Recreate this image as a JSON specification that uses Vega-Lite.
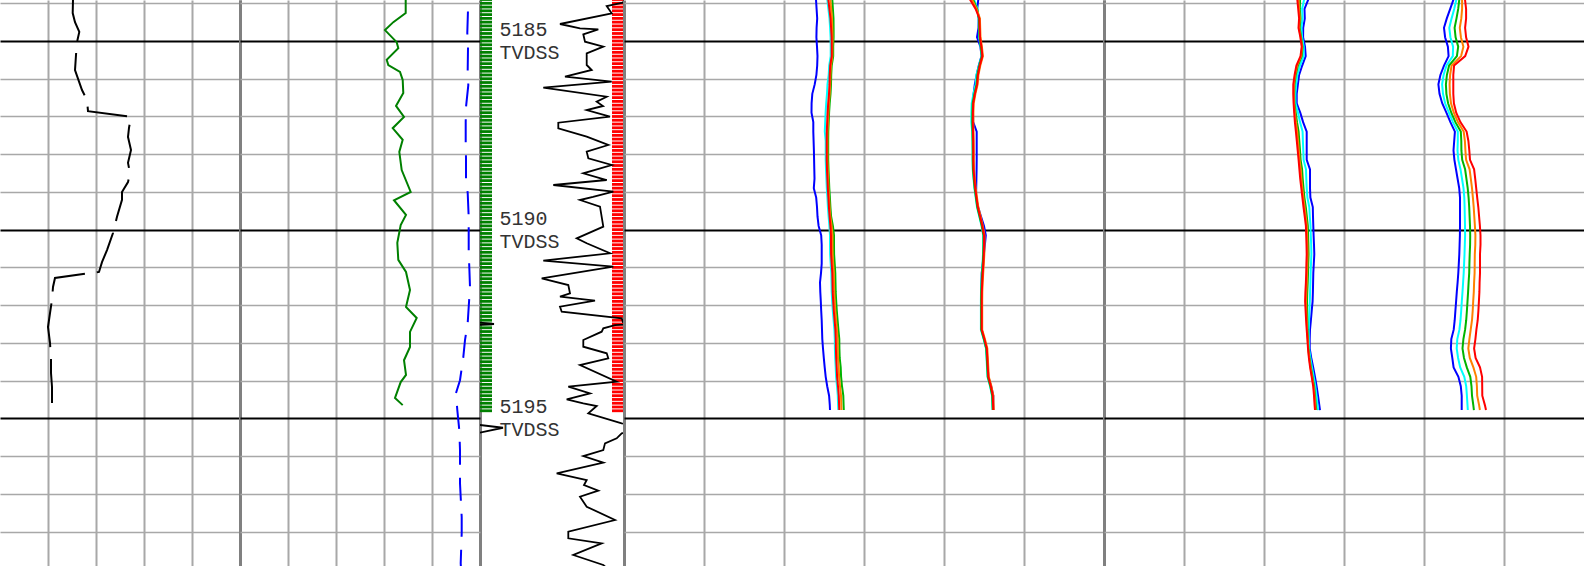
{
"$schema": "https://vega.github.io/schema/vega-lite/v6.json",
"padding": 0,
"spacing": 0,
"bounds": "flush",
"background": "white",
"config": {"view": {"stroke": null}, "axis": {"labels": false, "ticks": false, "domain": false, "grid": true, "minExtent": 0, "maxExtent": 0}},
"datasets": {
"t1": [{"d":5183.9,"v":7.3},{"d":5184.26,"v":7.27},{"d":5184.5,"v":7.5},{"d":5184.76,"v":7.93},{"d":5185.03,"v":7.7},{"d":5185.37,"v":7.6},{"d":5185.77,"v":7.5},{"d":5186.3,"v":8.2},{"d":5186.56,"v":8.7},{"d":5186.86,"v":8.8},{"d":5187.01,"v":13.1},{"d":5187.3,"v":12.9},{"d":5187.54,"v":12.8},{"d":5187.89,"v":13.1},{"d":5188.23,"v":12.8},{"d":5188.5,"v":13.0},{"d":5188.74,"v":12.8},{"d":5189.0,"v":12.2},{"d":5189.21,"v":12.2},{"d":5189.66,"v":11.7},{"d":5190.09,"v":11.3},{"d":5190.54,"v":10.7},{"d":5190.86,"v":10.2},{"d":5191.12,"v":9.9},{"d":5191.28,"v":5.5},{"d":5191.52,"v":5.3},{"d":5191.86,"v":5.2},{"d":5192.21,"v":5.0},{"d":5192.58,"v":4.8},{"d":5193.0,"v":5.0},{"d":5193.45,"v":5.1},{"d":5193.8,"v":5.1},{"d":5194.17,"v":5.2},{"d":5194.78,"v":5.2}],
"t2g": [{"d":5183.9,"v":16.57},{"d":5184.26,"v":16.57},{"d":5184.5,"v":15.33},{"d":5184.71,"v":14.5},{"d":5185.03,"v":15.67},{"d":5185.19,"v":15.83},{"d":5185.5,"v":14.67},{"d":5185.64,"v":14.83},{"d":5185.82,"v":16.0},{"d":5186.03,"v":16.27},{"d":5186.38,"v":16.33},{"d":5186.72,"v":15.6},{"d":5187.01,"v":16.4},{"d":5187.31,"v":15.27},{"d":5187.62,"v":16.27},{"d":5187.94,"v":15.93},{"d":5188.42,"v":16.17},{"d":5189.0,"v":17.07},{"d":5189.22,"v":15.4},{"d":5189.61,"v":16.6},{"d":5189.88,"v":16.07},{"d":5190.35,"v":15.73},{"d":5190.8,"v":15.83},{"d":5191.12,"v":16.6},{"d":5191.6,"v":17.0},{"d":5192.05,"v":16.6},{"d":5192.34,"v":17.67},{"d":5192.71,"v":17.0},{"d":5193.11,"v":17.0},{"d":5193.46,"v":16.4},{"d":5193.85,"v":16.6},{"d":5194.04,"v":16.07},{"d":5194.46,"v":15.5},{"d":5194.65,"v":16.27}],
"t2b": [{"d":5183.9,"v":22.83},{"d":5184.79,"v":22.73},{"d":5185.19,"v":22.8},{"d":5185.77,"v":22.77},{"d":5186.17,"v":22.83},{"d":5186.75,"v":22.6},{"d":5187.15,"v":22.57},{"d":5187.7,"v":22.57},{"d":5188.1,"v":22.6},{"d":5188.68,"v":22.6},{"d":5189.03,"v":22.77},{"d":5189.67,"v":22.87},{"d":5190.59,"v":22.87},{"d":5190.99,"v":22.93},{"d":5191.52,"v":23.0},{"d":5192.05,"v":22.87},{"d":5192.47,"v":22.77},{"d":5192.93,"v":22.5},{"d":5193.38,"v":22.33},{"d":5193.99,"v":22.0},{"d":5194.33,"v":21.6},{"d":5194.78,"v":21.73},{"d":5195.31,"v":21.93},{"d":5195.84,"v":22.0},{"d":5196.72,"v":22.0},{"d":5197.62,"v":22.17},{"d":5198.04,"v":22.17},{"d":5198.84,"v":22.07},{"d":5199.0,"v":22.1}],
"dc": [{"s":"m","d":5183.9,"v":14.5},{"s":"m","d":5183.985,"v":14.27},{"s":"m","d":5184.072,"v":12.67},{"s":"m","d":5184.266,"v":13.17},{"s":"m","d":5184.549,"v":8.0},{"s":"m","d":5184.663,"v":10.0},{"s":"m","d":5184.69,"v":11.83},{"s":"m","d":5184.822,"v":10.33},{"s":"m","d":5185.018,"v":10.5},{"s":"m","d":5185.151,"v":12.33},{"s":"m","d":5185.326,"v":10.67},{"s":"m","d":5185.636,"v":10.67},{"s":"m","d":5185.768,"v":11.17},{"s":"m","d":5185.946,"v":8.5},{"s":"m","d":5186.078,"v":13.17},{"s":"m","d":5186.237,"v":6.33},{"s":"m","d":5186.476,"v":12.67},{"s":"m","d":5186.608,"v":11.67},{"s":"m","d":5186.722,"v":12.3},{"s":"m","d":5186.829,"v":10.67},{"s":"m","d":5187.006,"v":13.0},{"s":"m","d":5187.165,"v":7.83},{"s":"m","d":5187.313,"v":7.83},{"s":"m","d":5187.536,"v":10.67},{"s":"m","d":5187.756,"v":12.83},{"s":"m","d":5187.934,"v":10.67},{"s":"m","d":5188.109,"v":10.83},{"s":"m","d":5188.286,"v":13.17},{"s":"m","d":5188.506,"v":10.33},{"s":"m","d":5188.684,"v":12.67},{"s":"m","d":5188.816,"v":7.33},{"s":"m","d":5188.994,"v":13.33},{"s":"m","d":5189.134,"v":11.3},{"s":"m","d":5189.214,"v":10.0},{"s":"m","d":5189.391,"v":12.0},{"s":"m","d":5189.921,"v":12.33},{"s":"m","d":5190.229,"v":9.67},{"s":"m","d":5190.361,"v":10.67},{"s":"m","d":5190.626,"v":13.0},{"s":"m","d":5190.822,"v":6.33},{"s":"m","d":5190.981,"v":13.33},{"s":"m","d":5191.289,"v":6.17},{"s":"m","d":5191.467,"v":8.83},{"s":"m","d":5191.687,"v":9.0},{"s":"m","d":5191.777,"v":8.0},{"s":"m","d":5191.883,"v":11.5},{"s":"m","d":5192.042,"v":8.0},{"s":"m","d":5192.174,"v":8.17},{"s":"m","d":5192.349,"v":14.17},{"s":"m","d":5192.45,"v":14.3},{"s":"m","d":5192.5,"v":15.8},{"s":"m","d":5192.53,"v":13.5},{"s":"m","d":5192.615,"v":12.33},{"s":"m","d":5192.704,"v":12.17},{"s":"m","d":5192.924,"v":10.33},{"s":"m","d":5193.102,"v":10.33},{"s":"m","d":5193.277,"v":12.67},{"s":"m","d":5193.41,"v":12.83},{"s":"m","d":5193.587,"v":10.0},{"s":"m","d":5194.03,"v":13.67},{"s":"m","d":5194.162,"v":8.83},{"s":"m","d":5194.337,"v":11.0},{"s":"m","d":5194.496,"v":8.67},{"s":"m","d":5194.602,"v":10.33},{"s":"m","d":5194.674,"v":11.67},{"s":"m","d":5194.867,"v":10.83},{"s":"m","d":5195.132,"v":14.17},{"s":"m","d":5195.25,"v":16.7},{"s":"m","d":5195.397,"v":14.17},{"s":"m","d":5195.53,"v":13.67},{"s":"m","d":5195.662,"v":12.5},{"s":"m","d":5195.84,"v":12.33},{"s":"m","d":5195.999,"v":10.33},{"s":"m","d":5196.176,"v":12.33},{"s":"m","d":5196.457,"v":7.67},{"s":"m","d":5196.635,"v":10.67},{"s":"m","d":5196.768,"v":10.4},{"s":"m","d":5196.918,"v":11.83},{"s":"m","d":5197.077,"v":10.0},{"s":"m","d":5197.343,"v":10.67},{"s":"m","d":5197.695,"v":13.5},{"s":"m","d":5198.005,"v":8.83},{"s":"m","d":5198.18,"v":8.83},{"s":"m","d":5198.313,"v":12.17},{"s":"m","d":5198.623,"v":9.33},{"s":"m","d":5198.888,"v":12.33},{"s":"m","d":5198.95,"v":12.6},
{"s":"w1","d":5192.46,"v":-0.2},{"s":"w1","d":5192.5,"v":1.4},{"s":"w1","d":5192.525,"v":-0.2},
{"s":"w2","d":5195.17,"v":-0.2},{"s":"w2","d":5195.25,"v":2.3},{"s":"w2","d":5195.39,"v":-0.2}],
"strip": [{"d":5183.9},{"d":5184.0},{"d":5184.1},{"d":5184.2},{"d":5184.3},{"d":5184.4},{"d":5184.5},{"d":5184.6},{"d":5184.7},{"d":5184.8},{"d":5184.9},{"d":5185.0},{"d":5185.1},{"d":5185.2},{"d":5185.3},{"d":5185.4},{"d":5185.5},{"d":5185.6},{"d":5185.7},{"d":5185.8},{"d":5185.9},{"d":5186.0},{"d":5186.1},{"d":5186.2},{"d":5186.3},{"d":5186.4},{"d":5186.5},{"d":5186.6},{"d":5186.7},{"d":5186.8},{"d":5186.9},{"d":5187.0},{"d":5187.1},{"d":5187.2},{"d":5187.3},{"d":5187.4},{"d":5187.5},{"d":5187.6},{"d":5187.7},{"d":5187.8},{"d":5187.9},{"d":5188.0},{"d":5188.1},{"d":5188.2},{"d":5188.3},{"d":5188.4},{"d":5188.5},{"d":5188.6},{"d":5188.7},{"d":5188.8},{"d":5188.9},{"d":5189.0},{"d":5189.1},{"d":5189.2},{"d":5189.3},{"d":5189.4},{"d":5189.5},{"d":5189.6},{"d":5189.7},{"d":5189.8},{"d":5189.9},{"d":5190.0},{"d":5190.1},{"d":5190.2},{"d":5190.3},{"d":5190.4},{"d":5190.5},{"d":5190.6},{"d":5190.7},{"d":5190.8},{"d":5190.9},{"d":5191.0},{"d":5191.1},{"d":5191.2},{"d":5191.3},{"d":5191.4},{"d":5191.5},{"d":5191.6},{"d":5191.7},{"d":5191.8},{"d":5191.9},{"d":5192.0},{"d":5192.1},{"d":5192.2},{"d":5192.3},{"d":5192.4},{"d":5192.5},{"d":5192.6},{"d":5192.7},{"d":5192.8},{"d":5192.9},{"d":5193.0},{"d":5193.1},{"d":5193.2},{"d":5193.3},{"d":5193.4},{"d":5193.5},{"d":5193.6},{"d":5193.7},{"d":5193.8},{"d":5193.9},{"d":5194.0},{"d":5194.1},{"d":5194.2},{"d":5194.3},{"d":5194.4},{"d":5194.5},{"d":5194.6},{"d":5194.7},{"d":5194.8}],
"lab": [{"d":5185,"t":"5185"},{"d":5190,"t":"5190"},{"d":5195,"t":"5195"}],
"t4": [
{"b":"A","d":5183.9,"blue":19.2,"cyan":20.33,"green":20.83,"orange":20.63,"red":20.43},
{"b":"A","d":5184.15,"blue":19.26,"cyan":20.44,"green":20.89,"orange":20.72,"red":20.54},
{"b":"A","d":5184.4,"blue":19.32,"cyan":20.55,"green":20.95,"orange":20.8,"red":20.65},
{"b":"A","d":5184.65,"blue":19.26,"cyan":20.61,"green":20.96,"orange":20.83,"red":20.71},
{"b":"A","d":5184.9,"blue":19.24,"cyan":20.66,"green":20.96,"orange":20.86,"red":20.76},
{"b":"A","d":5185.15,"blue":19.3,"cyan":20.67,"green":20.92,"orange":20.84,"red":20.77},
{"b":"A","d":5185.4,"blue":19.35,"cyan":20.67,"green":20.92,"orange":20.84,"red":20.77},
{"b":"A","d":5185.65,"blue":19.32,"cyan":20.52,"green":20.77,"orange":20.69,"red":20.62},
{"b":"A","d":5185.9,"blue":19.24,"cyan":20.47,"green":20.72,"orange":20.64,"red":20.57},
{"b":"A","d":5186.15,"blue":19.07,"cyan":20.35,"green":20.7,"orange":20.62,"red":20.55},
{"b":"A","d":5186.4,"blue":18.83,"cyan":20.3,"green":20.65,"orange":20.57,"red":20.5},
{"b":"A","d":5186.65,"blue":18.76,"cyan":20.22,"green":20.57,"orange":20.49,"red":20.42},
{"b":"A","d":5186.9,"blue":18.75,"cyan":20.16,"green":20.51,"orange":20.43,"red":20.36},
{"b":"A","d":5187.15,"blue":18.93,"cyan":20.12,"green":20.47,"orange":20.39,"red":20.32},
{"b":"A","d":5187.4,"blue":18.93,"cyan":20.08,"green":20.43,"orange":20.35,"red":20.28},
{"b":"A","d":5187.65,"blue":18.96,"cyan":20.17,"green":20.42,"orange":20.34,"red":20.27},
{"b":"A","d":5187.9,"blue":18.99,"cyan":20.17,"green":20.42,"orange":20.34,"red":20.27},
{"b":"A","d":5188.15,"blue":19.01,"cyan":20.17,"green":20.42,"orange":20.34,"red":20.27},
{"b":"A","d":5188.4,"blue":19.03,"cyan":20.2,"green":20.45,"orange":20.37,"red":20.3},
{"b":"A","d":5188.65,"blue":19.05,"cyan":20.24,"green":20.49,"orange":20.41,"red":20.34},
{"b":"A","d":5188.9,"blue":18.98,"cyan":20.28,"green":20.53,"orange":20.45,"red":20.38},
{"b":"A","d":5189.15,"blue":19.22,"cyan":20.34,"green":20.59,"orange":20.51,"red":20.44},
{"b":"A","d":5189.4,"blue":19.3,"cyan":20.39,"green":20.64,"orange":20.56,"red":20.49},
{"b":"A","d":5189.65,"blue":19.35,"cyan":20.46,"green":20.71,"orange":20.63,"red":20.56},
{"b":"A","d":5189.9,"blue":19.46,"cyan":20.54,"green":20.89,"orange":20.76,"red":20.64},
{"b":"A","d":5190.15,"blue":19.72,"cyan":20.6,"green":21.0,"orange":20.85,"red":20.7},
{"b":"A","d":5190.4,"blue":19.77,"cyan":20.6,"green":21.0,"orange":20.85,"red":20.7},
{"b":"A","d":5190.65,"blue":19.77,"cyan":20.61,"green":21.01,"orange":20.86,"red":20.71},
{"b":"A","d":5190.9,"blue":19.77,"cyan":20.67,"green":21.07,"orange":20.92,"red":20.77},
{"b":"A","d":5191.15,"blue":19.7,"cyan":20.73,"green":21.13,"orange":20.98,"red":20.83},
{"b":"A","d":5191.4,"blue":19.6,"cyan":20.75,"green":21.15,"orange":21.0,"red":20.85},
{"b":"A","d":5191.65,"blue":19.63,"cyan":20.77,"green":21.17,"orange":21.02,"red":20.87},
{"b":"A","d":5191.9,"blue":19.68,"cyan":20.82,"green":21.22,"orange":21.07,"red":20.92},
{"b":"A","d":5192.15,"blue":19.72,"cyan":20.88,"green":21.28,"orange":21.13,"red":20.98},
{"b":"A","d":5192.4,"blue":19.77,"cyan":20.96,"green":21.36,"orange":21.21,"red":21.06},
{"b":"A","d":5192.65,"blue":19.8,"cyan":21.04,"green":21.44,"orange":21.29,"red":21.14},
{"b":"A","d":5192.9,"blue":19.83,"cyan":21.08,"green":21.53,"orange":21.36,"red":21.18},
{"b":"A","d":5193.15,"blue":19.9,"cyan":21.09,"green":21.54,"orange":21.37,"red":21.19},
{"b":"A","d":5193.4,"blue":19.98,"cyan":21.12,"green":21.57,"orange":21.4,"red":21.22},
{"b":"A","d":5193.65,"blue":20.07,"cyan":21.17,"green":21.67,"orange":21.47,"red":21.27},
{"b":"A","d":5193.9,"blue":20.17,"cyan":21.21,"green":21.71,"orange":21.51,"red":21.31},
{"b":"A","d":5194.15,"blue":20.32,"cyan":21.3,"green":21.8,"orange":21.6,"red":21.4},
{"b":"A","d":5194.4,"blue":20.51,"cyan":21.38,"green":21.93,"orange":21.7,"red":21.48},
{"b":"A","d":5194.65,"blue":20.58,"cyan":21.41,"green":21.96,"orange":21.73,"red":21.51},
{"b":"A","d":5194.78,"blue":20.6,"cyan":21.43,"green":21.98,"orange":21.75,"red":21.53},
{"b":"B","d":5183.9,"blue":35.43,"cyan":35.0,"green":34.9,"orange":34.8,"red":34.6},
{"b":"B","d":5184.15,"blue":35.32,"cyan":35.36,"green":35.31,"orange":35.26,"red":35.16},
{"b":"B","d":5184.4,"blue":35.47,"cyan":35.46,"green":35.49,"orange":35.59,"red":35.54},
{"b":"B","d":5184.65,"blue":35.45,"cyan":35.49,"green":35.52,"orange":35.62,"red":35.57},
{"b":"B","d":5184.9,"blue":35.3,"cyan":35.52,"green":35.55,"orange":35.65,"red":35.6},
{"b":"B","d":5185.15,"blue":35.64,"cyan":35.66,"green":35.69,"orange":35.79,"red":35.74},
{"b":"B","d":5185.4,"blue":35.75,"cyan":35.76,"green":35.79,"orange":35.89,"red":35.84},
{"b":"B","d":5185.65,"blue":35.48,"cyan":35.5,"green":35.53,"orange":35.63,"red":35.58},
{"b":"B","d":5185.9,"blue":35.26,"cyan":35.24,"green":35.34,"orange":35.44,"red":35.39},
{"b":"B","d":5186.15,"blue":35.08,"cyan":35.16,"green":35.26,"orange":35.36,"red":35.31},
{"b":"B","d":5186.4,"blue":34.96,"cyan":34.94,"green":35.04,"orange":35.14,"red":35.09},
{"b":"B","d":5186.65,"blue":34.87,"cyan":34.77,"green":34.87,"orange":34.97,"red":34.92},
{"b":"B","d":5186.9,"blue":34.9,"cyan":34.74,"green":34.84,"orange":34.94,"red":34.89},
{"b":"B","d":5187.15,"blue":34.92,"cyan":34.73,"green":34.83,"orange":34.93,"red":34.88},
{"b":"B","d":5187.4,"blue":35.27,"cyan":34.82,"green":34.85,"orange":34.95,"red":34.9},
{"b":"B","d":5187.65,"blue":35.27,"cyan":34.84,"green":34.87,"orange":34.97,"red":34.92},
{"b":"B","d":5187.9,"blue":35.27,"cyan":34.85,"green":34.88,"orange":34.98,"red":34.93},
{"b":"B","d":5188.15,"blue":35.27,"cyan":34.85,"green":34.88,"orange":34.98,"red":34.93},
{"b":"B","d":5188.4,"blue":35.26,"cyan":34.87,"green":34.9,"orange":35.0,"red":34.95},
{"b":"B","d":5188.65,"blue":35.24,"cyan":34.95,"green":34.98,"orange":35.08,"red":35.03},
{"b":"B","d":5188.9,"blue":35.22,"cyan":35.04,"green":35.07,"orange":35.17,"red":35.12},
{"b":"B","d":5189.15,"blue":35.2,"cyan":35.17,"green":35.2,"orange":35.3,"red":35.25},
{"b":"B","d":5189.4,"blue":35.41,"cyan":35.3,"green":35.33,"orange":35.43,"red":35.38},
{"b":"B","d":5189.65,"blue":35.7,"cyan":35.53,"green":35.56,"orange":35.66,"red":35.61},
{"b":"B","d":5189.9,"blue":36.0,"cyan":35.75,"green":35.78,"orange":35.88,"red":35.83},
{"b":"B","d":5190.15,"blue":36.18,"cyan":35.92,"green":35.95,"orange":36.05,"red":36.0},
{"b":"B","d":5190.4,"blue":36.09,"cyan":35.92,"green":35.95,"orange":36.05,"red":36.0},
{"b":"B","d":5190.65,"blue":35.99,"cyan":35.9,"green":35.93,"orange":36.03,"red":35.98},
{"b":"B","d":5190.9,"blue":35.88,"cyan":35.85,"green":35.88,"orange":35.98,"red":35.93},
{"b":"B","d":5191.15,"blue":35.77,"cyan":35.79,"green":35.82,"orange":35.92,"red":35.87},
{"b":"B","d":5191.4,"blue":35.75,"cyan":35.74,"green":35.77,"orange":35.87,"red":35.82},
{"b":"B","d":5191.65,"blue":35.72,"cyan":35.7,"green":35.73,"orange":35.83,"red":35.78},
{"b":"B","d":5191.9,"blue":35.7,"cyan":35.69,"green":35.72,"orange":35.82,"red":35.77},
{"b":"B","d":5192.15,"blue":35.73,"cyan":35.69,"green":35.72,"orange":35.82,"red":35.77},
{"b":"B","d":5192.4,"blue":35.75,"cyan":35.69,"green":35.72,"orange":35.82,"red":35.77},
{"b":"B","d":5192.65,"blue":35.77,"cyan":35.69,"green":35.72,"orange":35.82,"red":35.77},
{"b":"B","d":5192.9,"blue":36.0,"cyan":35.96,"green":35.99,"orange":36.09,"red":36.04},
{"b":"B","d":5193.15,"blue":36.23,"cyan":36.2,"green":36.23,"orange":36.33,"red":36.28},
{"b":"B","d":5193.4,"blue":36.32,"cyan":36.25,"green":36.28,"orange":36.38,"red":36.33},
{"b":"B","d":5193.65,"blue":36.38,"cyan":36.3,"green":36.33,"orange":36.43,"red":36.38},
{"b":"B","d":5193.9,"blue":36.43,"cyan":36.35,"green":36.38,"orange":36.48,"red":36.43},
{"b":"B","d":5194.15,"blue":36.72,"cyan":36.61,"green":36.64,"orange":36.74,"red":36.69},
{"b":"B","d":5194.4,"blue":36.93,"cyan":36.8,"green":36.83,"orange":36.93,"red":36.88},
{"b":"B","d":5194.65,"blue":36.93,"cyan":36.83,"green":36.86,"orange":36.96,"red":36.91},
{"b":"B","d":5194.78,"blue":36.93,"cyan":36.85,"green":36.88,"orange":36.98,"red":36.93}],
"t5": [
{"b":"C","d":5183.9,"blue":20.43,"cyan":20.01,"green":19.61,"orange":19.46,"red":19.33},
{"b":"C","d":5184.15,"blue":20.05,"cyan":19.81,"green":19.58,"orange":19.5,"red":19.42},
{"b":"C","d":5184.4,"blue":20.08,"cyan":19.86,"green":19.65,"orange":19.58,"red":19.51},
{"b":"C","d":5184.65,"blue":19.92,"cyan":19.74,"green":19.57,"orange":19.51,"red":19.45},
{"b":"C","d":5184.9,"blue":19.91,"cyan":19.81,"green":19.71,"orange":19.67,"red":19.64},
{"b":"C","d":5185.15,"blue":20.1,"cyan":19.97,"green":19.85,"orange":19.81,"red":19.77},
{"b":"C","d":5185.4,"blue":20.17,"cyan":19.97,"green":19.78,"orange":19.71,"red":19.65},
{"b":"C","d":5185.65,"blue":19.82,"cyan":19.6,"green":19.39,"orange":19.31,"red":19.24},
{"b":"C","d":5185.9,"blue":19.51,"cyan":19.34,"green":19.17,"orange":19.11,"red":19.06},
{"b":"C","d":5186.15,"blue":19.39,"cyan":19.22,"green":19.05,"orange":18.99,"red":18.93},
{"b":"C","d":5186.4,"blue":19.27,"cyan":19.14,"green":19.02,"orange":18.97,"red":18.93},
{"b":"C","d":5186.65,"blue":19.27,"cyan":19.15,"green":19.04,"orange":19.0,"red":18.96},
{"b":"C","d":5186.9,"blue":19.63,"cyan":19.4,"green":19.17,"orange":19.09,"red":19.02},
{"b":"C","d":5187.15,"blue":19.91,"cyan":19.6,"green":19.3,"orange":19.19,"red":19.09},
{"b":"C","d":5187.4,"blue":20.27,"cyan":19.86,"green":19.46,"orange":19.32,"red":19.19},
{"b":"C","d":5187.65,"blue":20.27,"cyan":19.89,"green":19.53,"orange":19.4,"red":19.28},
{"b":"C","d":5187.9,"blue":20.27,"cyan":19.93,"green":19.6,"orange":19.48,"red":19.37},
{"b":"C","d":5188.15,"blue":20.27,"cyan":19.96,"green":19.66,"orange":19.56,"red":19.46},
{"b":"C","d":5188.4,"blue":20.6,"cyan":20.2,"green":19.81,"orange":19.67,"red":19.54},
{"b":"C","d":5188.65,"blue":20.6,"cyan":20.23,"green":19.87,"orange":19.74,"red":19.62},
{"b":"C","d":5188.9,"blue":20.6,"cyan":20.27,"green":19.95,"orange":19.83,"red":19.73},
{"b":"C","d":5189.15,"blue":20.64,"cyan":20.34,"green":20.04,"orange":19.94,"red":19.84},
{"b":"C","d":5189.4,"blue":20.88,"cyan":20.53,"green":20.18,"orange":20.06,"red":19.95},
{"b":"C","d":5189.65,"blue":20.9,"cyan":20.58,"green":20.28,"orange":20.17,"red":20.07},
{"b":"C","d":5189.9,"blue":20.93,"cyan":20.65,"green":20.38,"orange":20.28,"red":20.19},
{"b":"C","d":5190.15,"blue":20.96,"cyan":20.68,"green":20.41,"orange":20.31,"red":20.22},
{"b":"C","d":5190.4,"blue":21.0,"cyan":20.72,"green":20.44,"orange":20.34,"red":20.25},
{"b":"C","d":5190.65,"blue":21.03,"cyan":20.74,"green":20.46,"orange":20.36,"red":20.27},
{"b":"C","d":5190.9,"blue":20.98,"cyan":20.7,"green":20.43,"orange":20.33,"red":20.24},
{"b":"C","d":5191.15,"blue":20.93,"cyan":20.66,"green":20.4,"orange":20.31,"red":20.22},
{"b":"C","d":5191.4,"blue":20.91,"cyan":20.64,"green":20.37,"orange":20.28,"red":20.19},
{"b":"C","d":5191.65,"blue":20.89,"cyan":20.61,"green":20.33,"orange":20.23,"red":20.14},
{"b":"C","d":5191.9,"blue":20.86,"cyan":20.58,"green":20.3,"orange":20.2,"red":20.11},
{"b":"C","d":5192.15,"blue":20.77,"cyan":20.54,"green":20.31,"orange":20.23,"red":20.16},
{"b":"C","d":5192.4,"blue":20.69,"cyan":20.51,"green":20.33,"orange":20.27,"red":20.21},
{"b":"C","d":5192.65,"blue":20.6,"cyan":20.47,"green":20.35,"orange":20.31,"red":20.27},
{"b":"C","d":5192.9,"blue":20.57,"cyan":20.48,"green":20.4,"orange":20.37,"red":20.34},
{"b":"C","d":5193.15,"blue":20.57,"cyan":20.51,"green":20.44,"orange":20.42,"red":20.4},
{"b":"C","d":5193.4,"blue":20.73,"cyan":20.64,"green":20.55,"orange":20.52,"red":20.49},
{"b":"C","d":5193.65,"blue":20.92,"cyan":20.8,"green":20.69,"orange":20.65,"red":20.61},
{"b":"C","d":5193.9,"blue":21.1,"cyan":20.97,"green":20.85,"orange":20.81,"red":20.77},
{"b":"C","d":5194.15,"blue":21.26,"cyan":21.13,"green":21.01,"orange":20.96,"red":20.92},
{"b":"C","d":5194.4,"blue":21.4,"cyan":21.25,"green":21.1,"orange":21.05,"red":21.0},
{"b":"C","d":5194.65,"blue":21.53,"cyan":21.35,"green":21.18,"orange":21.12,"red":21.06},
{"b":"C","d":5194.78,"blue":21.6,"cyan":21.41,"green":21.23,"orange":21.16,"red":21.1},
{"b":"D","d":5183.9,"blue":34.95,"cyan":35.24,"green":35.53,"orange":35.81,"red":36.1},
{"b":"D","d":5184.15,"blue":34.62,"cyan":35.02,"green":35.42,"orange":35.81,"red":36.21},
{"b":"D","d":5184.4,"blue":34.28,"cyan":34.76,"green":35.25,"orange":35.73,"red":36.21},
{"b":"D","d":5184.65,"blue":34.0,"cyan":34.53,"green":35.06,"orange":35.58,"red":36.11},
{"b":"D","d":5184.9,"blue":34.11,"cyan":34.64,"green":35.16,"orange":35.69,"red":36.21},
{"b":"D","d":5185.15,"blue":34.39,"cyan":34.91,"green":35.42,"orange":35.94,"red":36.45},
{"b":"D","d":5185.4,"blue":34.46,"cyan":34.88,"green":35.29,"orange":35.71,"red":36.12},
{"b":"D","d":5185.65,"blue":34.0,"cyan":34.25,"green":34.51,"orange":34.76,"red":35.01},
{"b":"D","d":5185.9,"blue":33.64,"cyan":33.96,"green":34.29,"orange":34.61,"red":34.93},
{"b":"D","d":5186.15,"blue":33.44,"cyan":33.81,"green":34.19,"orange":34.56,"red":34.93},
{"b":"D","d":5186.4,"blue":33.55,"cyan":33.9,"green":34.24,"orange":34.59,"red":34.93},
{"b":"D","d":5186.65,"blue":33.82,"cyan":34.11,"green":34.41,"orange":34.7,"red":34.99},
{"b":"D","d":5186.9,"blue":34.24,"cyan":34.49,"green":34.73,"orange":34.98,"red":35.22},
{"b":"D","d":5187.15,"blue":34.64,"cyan":34.89,"green":35.14,"orange":35.39,"red":35.64},
{"b":"D","d":5187.4,"blue":35.09,"cyan":35.38,"green":35.68,"orange":35.97,"red":36.26},
{"b":"D","d":5187.65,"blue":35.02,"cyan":35.38,"green":35.73,"orange":36.09,"red":36.44},
{"b":"D","d":5187.9,"blue":34.95,"cyan":35.35,"green":35.74,"orange":36.14,"red":36.53},
{"b":"D","d":5188.15,"blue":35.04,"cyan":35.43,"green":35.82,"orange":36.21,"red":36.6},
{"b":"D","d":5188.4,"blue":35.2,"cyan":35.65,"green":36.11,"orange":36.56,"red":37.01},
{"b":"D","d":5188.65,"blue":35.36,"cyan":35.8,"green":36.24,"orange":36.68,"red":37.12},
{"b":"D","d":5188.9,"blue":35.52,"cyan":35.95,"green":36.37,"orange":36.8,"red":37.22},
{"b":"D","d":5189.15,"blue":35.6,"cyan":36.03,"green":36.46,"orange":36.89,"red":37.32},
{"b":"D","d":5189.4,"blue":35.6,"cyan":36.06,"green":36.52,"orange":36.97,"red":37.43},
{"b":"D","d":5189.65,"blue":35.6,"cyan":36.08,"green":36.56,"orange":37.03,"red":37.51},
{"b":"D","d":5189.9,"blue":35.6,"cyan":36.1,"green":36.6,"orange":37.09,"red":37.59},
{"b":"D","d":5190.15,"blue":35.59,"cyan":36.11,"green":36.62,"orange":37.14,"red":37.65},
{"b":"D","d":5190.4,"blue":35.56,"cyan":36.08,"green":36.61,"orange":37.13,"red":37.65},
{"b":"D","d":5190.65,"blue":35.53,"cyan":36.05,"green":36.57,"orange":37.08,"red":37.6},
{"b":"D","d":5190.9,"blue":35.48,"cyan":36.01,"green":36.54,"orange":37.07,"red":37.6},
{"b":"D","d":5191.15,"blue":35.43,"cyan":35.97,"green":36.52,"orange":37.06,"red":37.6},
{"b":"D","d":5191.4,"blue":35.36,"cyan":35.91,"green":36.46,"orange":37.01,"red":37.56},
{"b":"D","d":5191.65,"blue":35.28,"cyan":35.85,"green":36.41,"orange":36.98,"red":37.54},
{"b":"D","d":5191.9,"blue":35.21,"cyan":35.78,"green":36.35,"orange":36.92,"red":37.49},
{"b":"D","d":5192.15,"blue":35.14,"cyan":35.72,"green":36.29,"orange":36.87,"red":37.44},
{"b":"D","d":5192.4,"blue":35.07,"cyan":35.65,"green":36.22,"orange":36.8,"red":37.37},
{"b":"D","d":5192.65,"blue":34.97,"cyan":35.54,"green":36.11,"orange":36.67,"red":37.24},
{"b":"D","d":5192.9,"blue":34.73,"cyan":35.33,"green":35.94,"orange":36.54,"red":37.14},
{"b":"D","d":5193.15,"blue":34.69,"cyan":35.27,"green":35.85,"orange":36.43,"red":37.01},
{"b":"D","d":5193.4,"blue":34.83,"cyan":35.41,"green":36.0,"orange":36.58,"red":37.16},
{"b":"D","d":5193.65,"blue":34.96,"cyan":35.62,"green":36.28,"orange":36.94,"red":37.6},
{"b":"D","d":5193.9,"blue":35.44,"cyan":36.03,"green":36.63,"orange":37.22,"red":37.81},
{"b":"D","d":5194.15,"blue":35.68,"cyan":36.22,"green":36.75,"orange":37.29,"red":37.82},
{"b":"D","d":5194.4,"blue":35.77,"cyan":36.29,"green":36.8,"orange":37.32,"red":37.83},
{"b":"D","d":5194.65,"blue":35.77,"cyan":36.35,"green":36.93,"orange":37.51,"red":38.09},
{"b":"D","d":5194.78,"blue":35.77,"cyan":36.38,"green":36.99,"orange":37.59,"red":38.2}]
},
"hconcat": [
{
"width": 240, "height": 566,
"data": {"name": "t1"},
"mark": {"type": "line", "color": "#000000", "strokeWidth": 2, "strokeDash": [44, 12], "strokeDashOffset": 1, "clip": true},
"encoding": {
"x": {"field": "v", "type": "quantitative", "title": null, "scale": {"domain": [0, 24], "nice": false, "zero": false},
"axis": {"values": [4.8, 9.6, 14.4, 19.2, 24], "gridColor": {"condition": {"test": "datum.value === 24", "value": "#808080"}, "value": "#a8a8a8"}, "gridWidth": {"condition": {"test": "datum.value === 24", "value": 3}, "value": 2}}},
"y": {"field": "d", "type": "quantitative", "title": null, "scale": {"domain": [5183.913, 5198.914], "reverse": true, "nice": false, "zero": false},
"axis": {"values": [5184,5185,5186,5187,5188,5189,5190,5191,5192,5193,5194,5195,5196,5197,5198], "gridColor": {"condition": {"test": "datum.value % 5 === 0", "value": "#000000"}, "value": "#a8a8a8"}, "gridWidth": {"condition": {"test": "datum.value % 5 === 0", "value": 2}, "value": 1.3}}},
"order": {"field": "d", "type": "quantitative"}
}
},
{
"width": 240, "height": 566,
"layer": [
{"data": {"name": "t2g"},
"mark": {"type": "line", "color": "#008000", "strokeWidth": 2, "clip": true},
"encoding": {
"x": {"field": "v", "type": "quantitative", "title": null, "scale": {"domain": [0, 24], "nice": false, "zero": false},
"axis": {"values": [0, 4.8, 9.6, 14.4, 19.2, 24], "gridColor": {"condition": {"test": "datum.value === 0 || datum.value === 24", "value": "#808080"}, "value": "#a8a8a8"}, "gridWidth": {"condition": {"test": "datum.value === 0 || datum.value === 24", "value": 3}, "value": 2}}},
"y": {"field": "d", "type": "quantitative", "title": null, "scale": {"domain": [5183.913, 5198.914], "reverse": true, "nice": false, "zero": false},
"axis": {"values": [5184,5185,5186,5187,5188,5189,5190,5191,5192,5193,5194,5195,5196,5197,5198], "gridColor": {"condition": {"test": "datum.value % 5 === 0", "value": "#000000"}, "value": "#a8a8a8"}, "gridWidth": {"condition": {"test": "datum.value % 5 === 0", "value": 2}, "value": 1.3}}},
"order": {"field": "d", "type": "quantitative"}
}},
{"data": {"name": "t2b"},
"mark": {"type": "line", "color": "#0000ff", "strokeWidth": 2, "strokeDash": [23, 13], "strokeDashOffset": 24, "clip": true},
"encoding": {
"x": {"field": "v", "type": "quantitative", "title": null},
"y": {"field": "d", "type": "quantitative", "title": null},
"order": {"field": "d", "type": "quantitative"}
}}
]
},
{
"width": 144, "height": 566,
"layer": [
{"data": {"name": "strip"},
"mark": {"type": "rule", "color": "#008000", "strokeWidth": 2.8, "clip": true},
"encoding": {
"x": {"datum": 0, "type": "quantitative", "scale": {"domain": [0, 14.4], "nice": false, "zero": false}, "axis": null},
"x2": {"datum": 1.2},
"y": {"field": "d", "type": "quantitative", "title": null, "scale": {"domain": [5183.913, 5198.914], "reverse": true, "nice": false, "zero": false}, "axis": null}
}},
{"data": {"name": "strip"},
"mark": {"type": "rule", "color": "#ff0000", "strokeWidth": 2.8, "clip": true},
"encoding": {
"x": {"datum": 13.2, "type": "quantitative", "axis": null},
"x2": {"datum": 14.4},
"y": {"field": "d", "type": "quantitative", "title": null, "axis": null}
}},
{"data": {"name": "dc"},
"mark": {"type": "line", "color": "#000000", "strokeWidth": 1.8, "clip": true},
"encoding": {
"x": {"field": "v", "type": "quantitative", "title": null, "axis": null},
"y": {"field": "d", "type": "quantitative", "title": null, "axis": null},
"detail": {"field": "s", "type": "nominal"},
"order": {"field": "d", "type": "quantitative"}
}},
{"data": {"name": "lab"},
"mark": {"type": "text", "align": "left", "baseline": "alphabetic", "dy": -5, "font": "Liberation Mono", "fontSize": 20, "color": "#333333"},
"encoding": {
"x": {"datum": 1.95, "type": "quantitative", "axis": null},
"y": {"field": "d", "type": "quantitative", "title": null, "axis": null},
"text": {"field": "t"}
}},
{"data": {"name": "lab"},
"mark": {"type": "text", "align": "left", "baseline": "alphabetic", "dy": 18, "font": "Liberation Mono", "fontSize": 20, "color": "#333333"},
"encoding": {
"x": {"datum": 1.95, "type": "quantitative", "axis": null},
"y": {"field": "d", "type": "quantitative", "title": null, "axis": null},
"text": {"value": "TVDSS"}
}}
]
},
{
"width": 480, "height": 566,
"data": {"name": "t4"},
"transform": [{"fold": ["blue", "cyan", "green", "orange", "red"], "as": ["curve", "v"]}],
"mark": {"type": "line", "strokeWidth": 2, "clip": true},
"encoding": {
"x": {"field": "v", "type": "quantitative", "title": null, "scale": {"domain": [0, 48], "nice": false, "zero": false},
"axis": {"values": [0, 8, 16, 24, 32, 40, 48], "gridColor": {"condition": {"test": "datum.value === 0 || datum.value === 48", "value": "#808080"}, "value": "#a8a8a8"}, "gridWidth": {"condition": {"test": "datum.value === 0 || datum.value === 48", "value": 3}, "value": 2}}},
"y": {"field": "d", "type": "quantitative", "title": null, "scale": {"domain": [5183.913, 5198.914], "reverse": true, "nice": false, "zero": false},
"axis": {"values": [5184,5185,5186,5187,5188,5189,5190,5191,5192,5193,5194,5195,5196,5197,5198], "gridColor": {"condition": {"test": "datum.value % 5 === 0", "value": "#000000"}, "value": "#a8a8a8"}, "gridWidth": {"condition": {"test": "datum.value % 5 === 0", "value": 2}, "value": 1.3}}},
"color": {"field": "curve", "type": "nominal", "scale": {"domain": ["blue", "cyan", "green", "orange", "red"], "range": ["#0000ff", "#00ffff", "#00b400", "#ff8000", "#ff0000"]}, "legend": null},
"detail": {"field": "b", "type": "nominal"},
"order": {"field": "d", "type": "quantitative"}
}
},
{
"width": 480, "height": 566,
"data": {"name": "t5"},
"transform": [{"fold": ["blue", "cyan", "green", "orange", "red"], "as": ["curve", "v"]}],
"mark": {"type": "line", "strokeWidth": 2, "clip": true},
"encoding": {
"x": {"field": "v", "type": "quantitative", "title": null, "scale": {"domain": [0, 48], "nice": false, "zero": false},
"axis": {"values": [0, 8, 16, 24, 32, 40], "gridColor": {"condition": {"test": "datum.value === 0", "value": "#808080"}, "value": "#a8a8a8"}, "gridWidth": {"condition": {"test": "datum.value === 0", "value": 3}, "value": 2}}},
"y": {"field": "d", "type": "quantitative", "title": null, "scale": {"domain": [5183.913, 5198.914], "reverse": true, "nice": false, "zero": false},
"axis": {"values": [5184,5185,5186,5187,5188,5189,5190,5191,5192,5193,5194,5195,5196,5197,5198], "gridColor": {"condition": {"test": "datum.value % 5 === 0", "value": "#000000"}, "value": "#a8a8a8"}, "gridWidth": {"condition": {"test": "datum.value % 5 === 0", "value": 2}, "value": 1.3}}},
"color": {"field": "curve", "type": "nominal", "scale": {"domain": ["blue", "cyan", "green", "orange", "red"], "range": ["#0000ff", "#00ffff", "#00b400", "#ff8000", "#ff0000"]}, "legend": null},
"detail": {"field": "b", "type": "nominal"},
"order": {"field": "d", "type": "quantitative"}
}
}
]
}
